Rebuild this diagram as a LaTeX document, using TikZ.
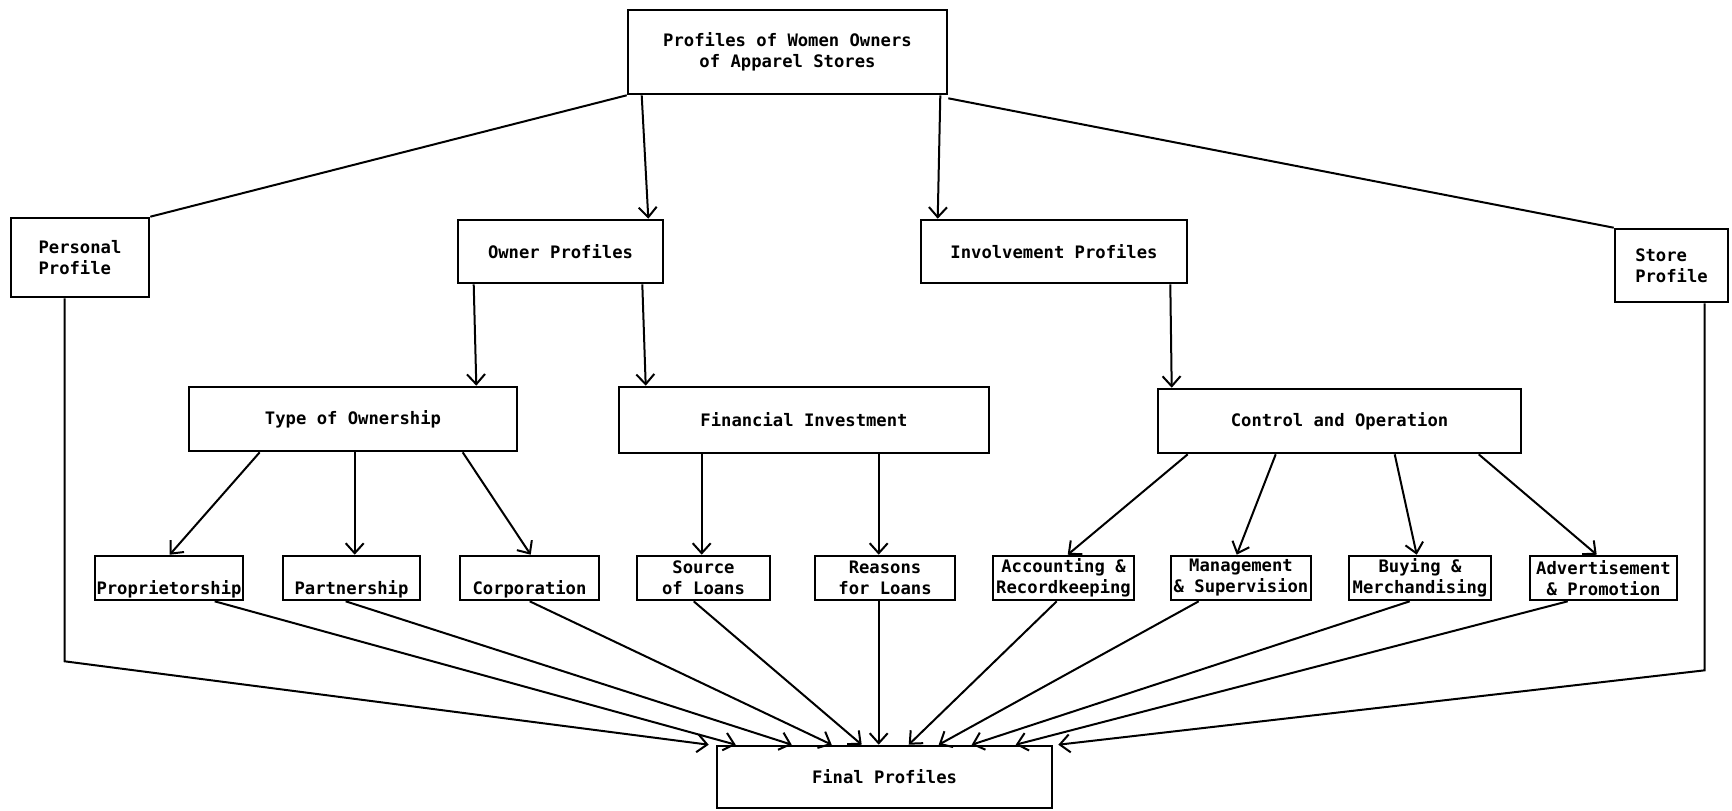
\documentclass[tikz,border=0pt]{standalone}
\usepackage{fontspec}
\setmonofont{DejaVu Sans Mono}
\usetikzlibrary{arrows.meta,calc}
\tikzset{
  box/.style={draw, line width=1.3pt, inner xsep=0.4pt, inner ysep=1pt,
    font=\ttfamily\bfseries\fontsize{8.6}{10.5}\selectfont, align=center},
  lowtext/.style={text height=16.5pt, text depth=0.5pt},
  link/.style={line width=1pt},
  arr/.style={line width=1pt, -{Straight Barb[length=5pt,width=9pt,line width=1pt]}},
}
\begin{document}
\begin{tikzpicture}[x=0.5pt,y=-0.5pt]
\fill[white] (0,0) rectangle (1732,810);
\useasboundingbox (0,0) rectangle (1732,810);
% top level
\node[box, minimum width=159.5pt, minimum height=42pt] (top) at (787.5,52) {Profiles of Women Owners\\of Apparel Stores};
% second level
\node[box, minimum width=69pt, minimum height=39.5pt, align=left] (pers) at (80,257.5) {Personal\\Profile};
\node[box, minimum width=102.5pt, minimum height=31.5pt] (owner) at (560.5,251.5) {Owner Profiles};
\node[box, minimum width=133pt, minimum height=31.5pt] (inv) at (1054,251.5) {Involvement Profiles};
\node[box, minimum width=56.5pt, minimum height=36.5pt, align=left] (store) at (1671.5,265.5) {Store\\Profile};
% third level
\node[box, minimum width=164pt, minimum height=32pt] (type) at (353,419) {Type of Ownership};
\node[box, minimum width=185pt, minimum height=33pt] (fin) at (804,420) {Financial Investment};
\node[box, minimum width=181.5pt, minimum height=32pt] (ctrl) at (1339.5,421) {Control and Operation};
% fourth level
\node[box, lowtext, minimum width=74pt, minimum height=22pt] (prop) at (169,578) {Proprietorship};
\node[box, lowtext, minimum width=68.5pt, minimum height=22pt] (part) at (351.5,578) {Partnership};
\node[box, lowtext, minimum width=69.5pt, minimum height=22pt] (corp) at (529.5,578) {Corporation};
\node[box, minimum width=66.5pt, minimum height=22pt] (src) at (703.5,578) {Source\\of Loans};
\node[box, minimum width=70pt, minimum height=22pt] (rea) at (885,578) {Reasons\\for Loans};
\node[box, minimum width=70.5pt, minimum height=22pt] (acc) at (1063.5,578) {Accounting \&\\Recordkeeping};
\node[box, minimum width=70pt, minimum height=22pt] (mgmt) at (1241,578) {Management\\\& Supervision};
\node[box, minimum width=71pt, minimum height=22pt] (buy) at (1420,578) {Buying \&\\Merchandising};
\node[box, minimum width=73.5pt, minimum height=22pt] (adv) at (1603.5,578) {Advertisement\\\& Promotion};
% final
\node[box, minimum width=167.5pt, minimum height=31pt] (final) at (884.5,777) {Final Profiles};

% top connectors
\draw[link] (top.south west) -- (pers.north east);
\draw[arr] ($(top.south west)+(15,0)$) -- ($(owner.north east)+(-16,0)$);
\draw[arr] ($(top.south east)+(-8,0)$) -- ($(inv.north west)+(18,0)$);
\draw[link] ($(top.south east)+(0,3)$) -- (store.north west);
% second to third
\draw[arr] ($(owner.south west)+(17,0)$) -- ($(type.north east)+(-42,0)$);
\draw[arr] ($(owner.south east)+(-22,0)$) -- ($(fin.north west)+(28,0)$);
\draw[arr] ($(inv.south east)+(-18,0)$) -- ($(ctrl.north west)+(15,0)$);
% third to fourth
\draw[arr] ($(type.south west)+(72,0)$) -- ($(prop.north west)+(76,0)$);
\draw[arr] ($(type.south west)+(167,0)$) -- ($(part.north west)+(73,0)$);
\draw[arr] ($(type.south west)+(275,0)$) -- ($(corp.north west)+(72,0)$);
\draw[arr] ($(fin.south west)+(84,0)$) -- ($(src.north west)+(66,0)$);
\draw[arr] ($(fin.south west)+(261,0)$) -- ($(rea.north west)+(65,0)$);
\draw[arr] ($(ctrl.south west)+(31,0)$) -- ($(acc.north west)+(76,0)$);
\draw[arr] ($(ctrl.south west)+(119,0)$) -- ($(mgmt.north west)+(67,0)$);
\draw[arr] ($(ctrl.south west)+(238,0)$) -- ($(buy.north west)+(69,0)$);
\draw[arr] ($(ctrl.south west)+(322,0)$) -- ($(adv.north west)+(68,0)$);
% to final
\draw[arr] ($(pers.south west)+(55,0)$) -- ++(0,363) -- ($(final.north west)+(-7,0)$);
\draw[arr] ($(prop.south west)+(121,0)$) -- ($(final.north west)+(20,0)$);
\draw[arr] ($(part.south west)+(64,0)$) -- ($(final.north west)+(76,0)$);
\draw[arr] ($(corp.south west)+(71,0)$) -- ($(final.north west)+(116,0)$);
\draw[arr] ($(src.south west)+(58,0)$) -- ($(final.north west)+(146,0)$);
\draw[arr] ($(rea.south west)+(65,0)$) -- ($(final.north west)+(163,0)$);
\draw[arr] ($(acc.south west)+(65,0)$) -- ($(final.north west)+(193,0)$);
\draw[arr] ($(mgmt.south west)+(29,0)$) -- ($(final.north west)+(223,0)$);
\draw[arr] ($(buy.south west)+(62,0)$) -- ($(final.north west)+(256,0)$);
\draw[arr] ($(adv.south west)+(39,0)$) -- ($(final.north west)+(300,0)$);
\draw[arr] ($(store.south west)+(91,0)$) -- ++(0,367) -- ($(final.north east)+(5,0)$);
\end{tikzpicture}
\end{document}
